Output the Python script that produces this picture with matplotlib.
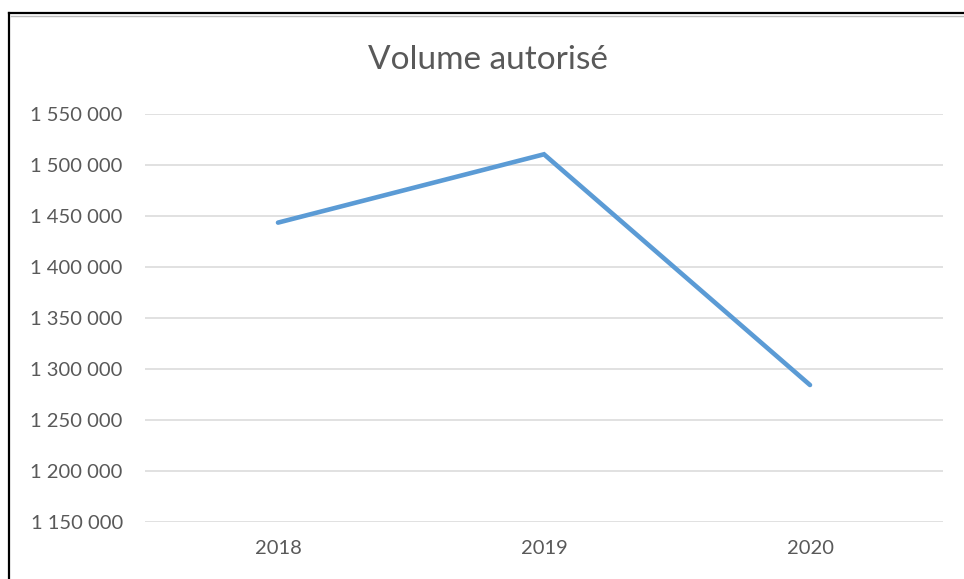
import matplotlib
matplotlib.use("Agg")
import matplotlib.pyplot as plt
from matplotlib.lines import Line2D
from matplotlib.ticker import FuncFormatter

years = ["2018", "2019", "2020"]
volume = [1443500, 1510500, 1284300]
y_ticks = [1150000, 1200000, 1250000, 1300000, 1350000, 1400000, 1450000, 1500000, 1550000]
title = "Volume autorisé"

plt.rcParams['font.family'] = ['Lato', 'DejaVu Sans']

W, H = 964, 579
fig = plt.figure(figsize=(W / 100, H / 100), dpi=100)
ax = fig.add_axes([145 / W, 1 - 522 / H, (943 - 145) / W, (522 - 114) / H])

x = list(range(len(years)))
ax.plot(x, volume, color="#5B9BD5", linewidth=3.3, solid_capstyle="round", solid_joinstyle="miter", zorder=3)

ax.set_xlim(-0.5, len(years) - 0.5)
ax.set_ylim(y_ticks[0], y_ticks[-1])
ax.set_yticks(y_ticks)
ax.set_xticks(x)
ax.set_xticklabels(years)
ax.yaxis.set_major_formatter(FuncFormatter(lambda v, p: f"{int(v):,}".replace(",", " ")))
ax.grid(axis="y", color="#D9D9D9", linewidth=1.1, zorder=0)
ax.grid(axis="x", visible=False)
for s in ax.spines.values():
    s.set_visible(False)
ax.tick_params(axis="both", length=0, labelsize=14.5, labelcolor="#595959")
ax.tick_params(axis="y", pad=16)
ax.tick_params(axis="x", pad=13)

fig.text(488 / W, 1 - 60 / H, title, ha="center", va="center", fontsize=24, color="#595959")

# frame lines (top and left), with faint shadow
fig.add_artist(Line2D([9 / W, 1.0], [1 - 13 / H, 1 - 13 / H], color="#000000", linewidth=1.6, transform=fig.transFigure))
fig.add_artist(Line2D([11 / W, 1.0], [1 - 15.5 / H, 1 - 15.5 / H], color="#BBBBBB", linewidth=1.0, transform=fig.transFigure))
fig.add_artist(Line2D([9 / W, 9 / W], [0, 1 - 13 / H], color="#000000", linewidth=1.6, transform=fig.transFigure))

fig.savefig("out.png", dpi=100)
